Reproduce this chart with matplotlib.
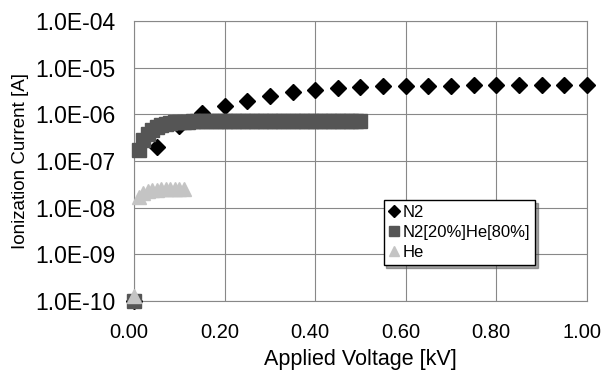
import numpy as np
import matplotlib
matplotlib.use("Agg")
import matplotlib.pyplot as plt
import matplotlib.transforms as mtransforms
from matplotlib.ticker import FixedLocator, FixedFormatter

# N2
n2_v = [0.00, 0.05, 0.10, 0.15, 0.20, 0.25, 0.30, 0.35, 0.40, 0.45, 0.50,
        0.55, 0.60, 0.65, 0.70, 0.75, 0.80, 0.85, 0.90, 0.95, 1.00]
n2_i = [1.0e-10, 2.0e-7, 5.5e-7, 1.05e-6, 1.5e-6, 1.9e-6, 2.5e-6, 3.0e-6, 3.4e-6, 3.7e-6, 3.9e-6,
        4.0e-6, 4.05e-6, 4.1e-6, 4.1e-6, 4.15e-6, 4.2e-6, 4.2e-6, 4.25e-6, 4.25e-6, 4.3e-6]

# N2[20%]He[80%]
mix_v = [0.00, 0.01, 0.02, 0.03, 0.04, 0.05, 0.06, 0.07, 0.08, 0.09, 0.10,
         0.11, 0.12, 0.13, 0.14, 0.15, 0.16, 0.17, 0.18, 0.19, 0.20,
         0.21, 0.22, 0.23, 0.24, 0.25, 0.26, 0.27, 0.28, 0.29, 0.30,
         0.31, 0.32, 0.33, 0.34, 0.35, 0.36, 0.37, 0.38, 0.39, 0.40,
         0.41, 0.42, 0.43, 0.44, 0.45, 0.46, 0.47, 0.48, 0.49, 0.50]
mix_i = [1.0e-10, 1.7e-7, 2.8e-7, 3.8e-7, 4.6e-7, 5.3e-7, 5.8e-7, 6.2e-7, 6.5e-7, 6.7e-7, 6.9e-7,
         7.0e-7, 7.0e-7, 7.1e-7, 7.1e-7, 7.1e-7, 7.2e-7, 7.2e-7, 7.2e-7, 7.2e-7, 7.2e-7,
         7.2e-7, 7.3e-7, 7.3e-7, 7.3e-7, 7.3e-7, 7.3e-7, 7.3e-7, 7.3e-7, 7.3e-7, 7.3e-7,
         7.3e-7, 7.3e-7, 7.3e-7, 7.3e-7, 7.3e-7, 7.3e-7, 7.3e-7, 7.3e-7, 7.3e-7, 7.3e-7,
         7.3e-7, 7.3e-7, 7.3e-7, 7.3e-7, 7.3e-7, 7.3e-7, 7.3e-7, 7.3e-7, 7.3e-7, 7.3e-7]

# He
he_v = [0.00, 0.01, 0.02, 0.03, 0.04, 0.05, 0.06, 0.07, 0.08, 0.09, 0.10, 0.11]
he_i = [1.3e-10, 1.7e-8, 2.1e-8, 2.3e-8, 2.4e-8, 2.4e-8, 2.5e-8, 2.5e-8, 2.5e-8, 2.5e-8, 2.5e-8, 2.5e-8]

x_ticks = [0.0, 0.2, 0.4, 0.6, 0.8, 1.0]
x_labels = ['0.00', '0.20', '0.40', '0.60', '0.80', '1.00']
y_ticks = [1e-10, 1e-9, 1e-8, 1e-7, 1e-6, 1e-5, 1e-4]
y_labels = ['1.0E-10', '1.0E-09', '1.0E-08', '1.0E-07', '1.0E-06', '1.0E-05', '1.0E-04']

plt.rcParams['font.family'] = ['Liberation Sans', 'DejaVu Sans']

fig = plt.figure(figsize=(6.05, 3.73), dpi=100)
ax = fig.add_axes([0.2215, 0.193, 0.7485, 0.7507])

ax.plot(n2_v, n2_i, linestyle='none', marker='D', markersize=8.5, color='black',
        label='N2', clip_on=False, zorder=3)
ax.plot(mix_v, mix_i, linestyle='none', marker='s', markersize=10, color='#555555',
        label='N2[20%]He[80%]', clip_on=False, zorder=4)
ax.plot(he_v, he_i, linestyle='none', marker='^', markersize=10, color='#c4c4c4',
        label='He', clip_on=False, zorder=5)

ax.set_yscale('log')
ax.set_xlim(0, 1.0)
ax.set_ylim(1e-10, 1e-4)
ax.xaxis.set_major_locator(FixedLocator(x_ticks))
ax.xaxis.set_major_formatter(FixedFormatter(x_labels))
ax.yaxis.set_major_locator(FixedLocator(y_ticks))
ax.yaxis.set_major_formatter(FixedFormatter(y_labels))
ax.yaxis.set_minor_locator(FixedLocator([]))
ax.tick_params(axis='both', length=0)
ax.tick_params(axis='x', labelsize=14.5, pad=16)
ax.tick_params(axis='y', labelsize=16.5, pad=13.5)
ax.grid(True, color='#888888', linewidth=0.8)
ax.set_axisbelow(True)
for s in ax.spines.values():
    s.set_color('#888888')
    s.set_linewidth(0.8)

# x tick labels sit a little left of their grid lines in the original
shift = mtransforms.ScaledTranslation(-5 / 100, 0, fig.dpi_scale_trans)
for lab in ax.get_xticklabels():
    lab.set_transform(lab.get_transform() + shift)

ax.set_xlabel('Applied Voltage [kV]', fontsize=15.5, labelpad=5)
ax.set_ylabel('Ionization Current [A]', fontsize=13.5, labelpad=4)

leg = ax.legend(loc='upper left', bbox_to_anchor=(0.551, 0.36), fontsize=12,
                frameon=True, fancybox=False, shadow=True, handlelength=0.7,
                handletextpad=0.15, borderpad=0.3, labelspacing=0.3, markerscale=0.7,
                borderaxespad=0)
leg.get_frame().set_edgecolor('black')
leg.get_frame().set_linewidth(1.0)

fig.savefig('out.png', dpi=100)
